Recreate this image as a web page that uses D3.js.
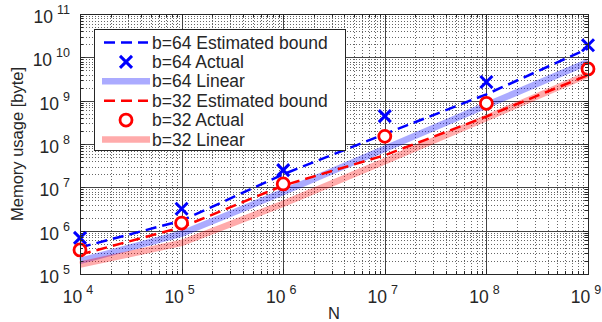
<!DOCTYPE html>
<html>
<head>
<meta charset="utf-8">
<script src="https://cdn.jsdelivr.net/npm/d3@7"></script>
<style>
  body { margin: 0; background: #fff; }
  text { font-family: "Liberation Sans", Arial, sans-serif; fill: #262626; }
</style>
</head>
<body>
<svg width="602" height="322"></svg>
<script>
// values
var N      = [1e4, 1e5, 1e6, 1e7, 1e8, 1e9];
var est64  = [4.1e5, 1.7e6, 2.0e7, 1.7e8, 1.4e9, 1.6e10];
var act64  = [6.8e5, 3.2e6, 2.5e7, 4.4e8, 2.7e9, 1.9e10];
var lin64  = [2.0e5, 8.5e5, 7.8e6, 7.8e7, 7.8e8, 7.8e9];
var est32  = [2.8e5, 1.2e6, 1.1e7, 5.5e7, 4.3e8, 3.9e9];
var act32  = [3.6e5, 1.5e6, 1.2e7, 1.5e8, 8.7e8, 5.4e9];
var lin32  = [1.65e5, 5.2e5, 4.2e6, 4.0e7, 4.0e8, 4.0e9];
var xExps  = [4, 5, 6, 7, 8, 9];
var yExps  = [5, 6, 7, 8, 9, 10, 11];
var legendLabels = ["b=64 Estimated bound", "b=64 Actual", "b=64 Linear",
                    "b=32 Estimated bound", "b=32 Actual", "b=32 Linear"];

var svg = d3.select("svg");
// plot box (note: "top" is taken by window.top, so use pTop etc)
var pLeft = 80, pRight = 588, pTop = 14, pBottom = 274;

var x = d3.scaleLog().domain([1e4, 1e9]).range([pLeft, pRight]);
var y = d3.scaleLog().domain([1e5, 1e11]).range([pBottom, pTop]);

// minor positions 2..9 x 10^k
function minors(lo, hi) {
    var out = [];
    for (var e = lo; e < hi; e++)
        for (var m = 2; m <= 9; m++) out.push(m * Math.pow(10, e));
    return out;
}
var xMinor = minors(4, 9), yMinor = minors(5, 11);

// GRID
var grid = svg.append("g");
grid.selectAll(".xm").data(xMinor).enter().append("line")
    .attr("x1", function(d) { return Math.round(x(d)) + 0.5; })
    .attr("x2", function(d) { return Math.round(x(d)) + 0.5; })
    .attr("y1", pTop).attr("y2", pBottom)
    .attr("stroke", "#666").attr("stroke-dasharray", "1,2");
grid.selectAll(".ym").data(yMinor).enter().append("line")
    .attr("y1", function(d) { return Math.round(y(d)) + 0.5; })
    .attr("y2", function(d) { return Math.round(y(d)) + 0.5; })
    .attr("x1", pLeft).attr("x2", pRight)
    .attr("stroke", "#666").attr("stroke-dasharray", "1,2");
grid.selectAll(".xM").data(xExps).enter().append("line")
    .attr("x1", function(d) { return Math.round(x(Math.pow(10, d))) + 0.5; })
    .attr("x2", function(d) { return Math.round(x(Math.pow(10, d))) + 0.5; })
    .attr("y1", pTop).attr("y2", pBottom)
    .attr("stroke", "#444");
grid.selectAll(".yM").data(yExps).enter().append("line")
    .attr("y1", function(d) { return Math.round(y(Math.pow(10, d))) + 0.5; })
    .attr("y2", function(d) { return Math.round(y(Math.pow(10, d))) + 0.5; })
    .attr("x1", pLeft).attr("x2", pRight)
    .attr("stroke", "#444");

// SERIES
var line = function(vals) {
    return d3.line()
        .x(function(d, i) { return x(N[i]); })
        .y(function(d) { return y(d); })(vals);
};
var plot = svg.append("g");

function dashed(vals, color) {
    plot.append("path").attr("d", line(vals)).attr("fill", "none")
        .attr("stroke", color).attr("stroke-width", 2.5)
        .attr("stroke-dasharray", "11,6");
}
function band(vals, color) {
    plot.append("path").attr("d", line(vals)).attr("fill", "none")
        .attr("stroke", color).attr("stroke-opacity", 0.33)
        .attr("stroke-width", 6.5);
}
function crossPath(cx, cy, s) {
    return "M" + (cx - s) + "," + (cy - s) + "L" + (cx + s) + "," + (cy + s) +
           "M" + (cx - s) + "," + (cy + s) + "L" + (cx + s) + "," + (cy - s);
}
function crosses(vals) {
    plot.append("g").selectAll("path").data(vals).enter().append("path")
        .attr("d", function(d, i) { return crossPath(x(N[i]), y(d), 6); })
        .attr("stroke", "#0000ff").attr("stroke-width", 3);
}
function circles(vals) {
    plot.append("g").selectAll("circle").data(vals).enter().append("circle")
        .attr("cx", function(d, i) { return x(N[i]); })
        .attr("cy", function(d) { return y(d); })
        .attr("r", 6).attr("fill", "#fff")
        .attr("stroke", "#ff0000").attr("stroke-width", 2.8);
}

dashed(est64, "#0000ff");
crosses(act64);
band(lin64, "#0000ff");
dashed(est32, "#ff0000");
circles(act32);
band(lin32, "#ff0000");

// AXES box + ticks (inside, on all four sides)
var axes = svg.append("g");
axes.append("rect").attr("x", pLeft + 0.5).attr("y", pTop + 0.5)
    .attr("width", pRight - pLeft).attr("height", pBottom - pTop)
    .attr("fill", "none").attr("stroke", "#262626");
function xTicks(vals, len) {
    vals.forEach(function(v) {
        var px = Math.round(x(v)) + 0.5;
        axes.append("line").attr("x1", px).attr("x2", px).attr("y1", pBottom).attr("y2", pBottom - len).attr("stroke", "#262626");
        axes.append("line").attr("x1", px).attr("x2", px).attr("y1", pTop).attr("y2", pTop + len).attr("stroke", "#262626");
    });
}
function yTicks(vals, len) {
    vals.forEach(function(v) {
        var py = Math.round(y(v)) + 0.5;
        axes.append("line").attr("y1", py).attr("y2", py).attr("x1", pLeft).attr("x2", pLeft + len).attr("stroke", "#262626");
        axes.append("line").attr("y1", py).attr("y2", py).attr("x1", pRight).attr("x2", pRight - len).attr("stroke", "#262626");
    });
}
xTicks(xMinor, 3); yTicks(yMinor, 3);
xTicks(xExps.map(function(e) { return Math.pow(10, e); }), 5);
yTicks(yExps.map(function(e) { return Math.pow(10, e); }), 5);

// tick labels
var xl = svg.append("g").selectAll("text").data(xExps).enter().append("text")
    .attr("x", function(d) { return x(Math.pow(10, d)) - 2; })
    .attr("y", 303).attr("text-anchor", "middle").style("font-size", "17.5px");
xl.append("tspan").text("10");
xl.append("tspan").attr("dx", 4).attr("dy", -9).style("font-size", "12.5px")
    .text(function(d) { return d; });

var yl = svg.append("g").selectAll("text").data(yExps).enter().append("text")
    .attr("x", 70).attr("y", function(d) { return y(Math.pow(10, d)) + 9; })
    .attr("text-anchor", "end").style("font-size", "17.5px");
yl.append("tspan").text("10");
yl.append("tspan").attr("dx", 4).attr("dy", -9).style("font-size", "12.5px")
    .text(function(d) { return d; });

// axis titles
svg.append("text").attr("x", 334).attr("y", 319).attr("text-anchor", "middle")
    .style("font-size", "16.5px").text("N");
svg.append("text").attr("transform", "translate(23,144) rotate(-90)")
    .attr("text-anchor", "middle").style("font-size", "16.5px")
    .text("Memory usage [byte]");

// LEGEND
var lg = svg.append("g");
lg.append("rect").attr("x", 94.5).attr("y", 29.5).attr("width", 251).attr("height", 121)
    .attr("fill", "#fff").attr("stroke", "#262626");
var rowY = function(i) { return 42.5 + i * 19.4; };
var styles = [
    { kind: "dash", color: "#0000ff" }, { kind: "x" }, { kind: "band", color: "#0000ff" },
    { kind: "dash", color: "#ff0000" }, { kind: "o" }, { kind: "band", color: "#ff0000" }
];
styles.forEach(function(s, i) {
    var cy = rowY(i);
    if (s.kind === "dash") {
        lg.append("line").attr("x1", 104).attr("x2", 148).attr("y1", cy).attr("y2", cy)
            .attr("stroke", s.color).attr("stroke-width", 2.5).attr("stroke-dasharray", "11,6");
    } else if (s.kind === "band") {
        lg.append("line").attr("x1", 102).attr("x2", 150).attr("y1", cy).attr("y2", cy)
            .attr("stroke", s.color).attr("stroke-opacity", 0.33).attr("stroke-width", 6.5);
    } else if (s.kind === "x") {
        lg.append("path").attr("d", crossPath(126, cy, 6))
            .attr("stroke", "#0000ff").attr("stroke-width", 3);
    } else {
        lg.append("circle").attr("cx", 126).attr("cy", cy).attr("r", 6)
            .attr("fill", "#fff").attr("stroke", "#ff0000").attr("stroke-width", 2.8);
    }
    lg.append("text").attr("x", 152).attr("y", cy + 6).style("font-size", "17.5px")
        .text(legendLabels[i]);
});
</script>
</body>
</html>
